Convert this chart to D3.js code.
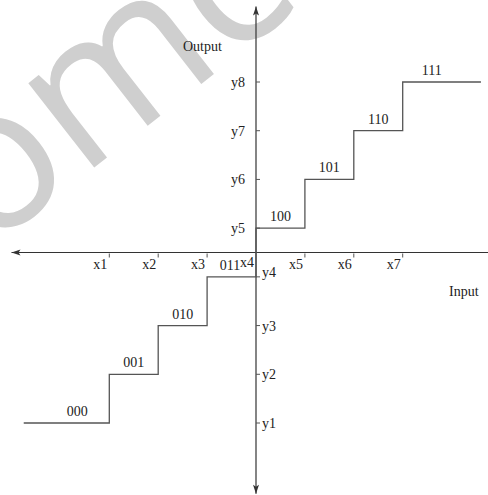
<!DOCTYPE html>
<html>
<head>
<meta charset="utf-8">
<script src="https://cdn.jsdelivr.net/npm/d3@7"></script>
<style>
  body { margin: 0; background: #fff; }
  svg text { font-family: "Liberation Serif", "DejaVu Serif", serif; font-size: 14px; fill: #222; }
</style>
</head>
<body>
<div id="chart"></div>
<script>
// quantizer data
var codes = ["000", "001", "010", "011", "100", "101", "110", "111"];
var levels = [1, 2, 3, 4, 5, 6, 7, 8];
var edges = [-0.75, 1, 2, 3, 4, 5, 6, 7, 8.6];
var xTicks = [1, 2, 3, 5, 6, 7];
var xTickLabels = ["x1", "x2", "x3", "x5", "x6", "x7"];
var yTicks = [1, 2, 3, 4, 5, 6, 7, 8];
var yTickLabels = ["y1", "y2", "y3", "y4", "y5", "y6", "y7", "y8"];
var xExtent = [-1.0, 8.8];
var yExtent = [-0.45, 9.55];

var width = 488, height = 495;

var svg = d3.select("#chart")
  .append("svg")
    .attr("width", width)
    .attr("height", height);

// watermark
svg.append("text")
  .attr("transform", "translate(-14,252) rotate(-38)")
  .style("font-family", "'Open Sans', sans-serif")
  .style("font-size", "200px")
  .style("fill", "#cfcfcf")
  .text("omc");

var x = d3.scaleLinear()
  .domain([0, 8])
  .range([256 - 4 * 48.9, 256 + 4 * 48.9]);

var y = d3.scaleLinear()
  .domain([1, 8])
  .range([423, 82]);

var x0 = x(4), y0 = y(4.5);

var axisColor = "#333";

// horizontal axis
svg.append("line")
  .attr("x1", x(xExtent[0])).attr("x2", x(xExtent[1]))
  .attr("y1", y0).attr("y2", y0)
  .style("stroke", axisColor).style("stroke-width", 1.2);
// vertical axis
svg.append("line")
  .attr("x1", x0).attr("x2", x0)
  .attr("y1", y(yExtent[1])).attr("y2", y(yExtent[0]))
  .style("stroke", axisColor).style("stroke-width", 1.2);

// arrow heads
var arrow = function(px, py, ang) {
  svg.append("path")
    .attr("d", "M0,0 L-9,-3 L-7,0 L-9,3 Z")
    .attr("transform", "translate(" + px + "," + py + ") rotate(" + ang + ")")
    .style("fill", axisColor);
}
arrow(x(xExtent[0]), y0, 180);
arrow(x0, y(yExtent[1]), -90);
arrow(x0, y(yExtent[0]), 90);

// x ticks
svg.selectAll(".xt")
  .data(xTicks)
  .enter()
  .append("line")
    .attr("x1", function(d) { return x(d) })
    .attr("x2", function(d) { return x(d) })
    .attr("y1", y0 + 1)
    .attr("y2", y0 + 5)
    .style("stroke", "#555");

svg.selectAll(".xl")
  .data(xTicks)
  .enter()
  .append("text")
    .attr("x", function(d) { return x(d) - 2 })
    .attr("y", y0 + 16)
    .attr("text-anchor", "end")
    .text(function(d, i) { return xTickLabels[i] });

svg.append("text")
  .attr("x", x0 - 2)
  .attr("y", y0 + 14)
  .attr("text-anchor", "end")
  .text("x4");

// y ticks
svg.selectAll(".yt")
  .data(yTicks)
  .enter()
  .append("line")
    .attr("x1", x0)
    .attr("x2", x0 + 4)
    .attr("y1", function(d) { return y(d) })
    .attr("y2", function(d) { return y(d) })
    .style("stroke", "#555");

svg.selectAll(".yl")
  .data(yTicks)
  .enter()
  .append("text")
    .attr("x", function(d) { return d > 4 ? x0 - 25 : x0 + 6 })
    .attr("y", function(d) { return y(d) + (d == 4 ? 0 : 5) })
    .attr("text-anchor", "start")
    .text(function(d, i) { return yTickLabels[i] });

// staircase
var pts = [];
levels.forEach(function(lv, i) {
  pts.push([edges[i], lv]);
  pts.push([edges[i + 1], lv]);
});
var line = d3.line()
  .x(function(d) { return x(d[0]) })
  .y(function(d) { return y(d[1]) })
  .curve(d3.curveStepAfter);

svg.append("path")
  .datum(pts)
  .attr("d", line)
  .style("fill", "none")
  .style("stroke", "#555")
  .style("stroke-width", 1.3);

// code labels
svg.selectAll(".cl")
  .data(codes)
  .enter()
  .append("text")
    .attr("x", function(d, i) {
      if (i == 0) return x(edges[1]) - 32;
      if (i == 3) return x(edges[4]) - 26;
      if (i == 7) return x(edges[7]) + 29;
      return (x(edges[i]) + x(edges[i + 1])) / 2;
    })
    .attr("y", function(d, i) { return y(levels[i]) - 7 })
    .attr("text-anchor", "middle")
    .text(function(d) { return d });

svg.append("text")
  .attr("x", 183).attr("y", 51)
  .text("Output");

svg.append("text")
  .attr("x", 449).attr("y", 296)
  .text("Input");
</script>
</body>
</html>
